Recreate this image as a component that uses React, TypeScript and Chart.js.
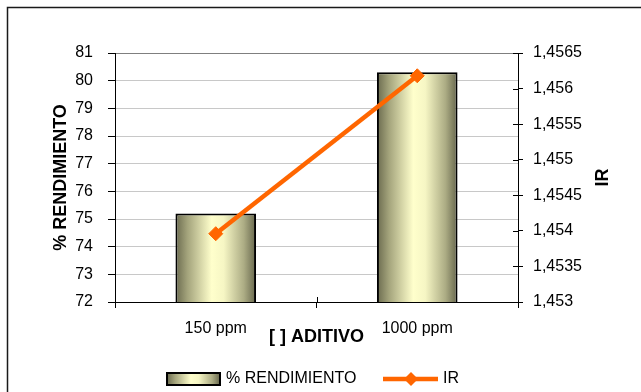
import React, { useEffect, useRef } from "react";
import { Chart, registerables } from "chart.js";

Chart.register(...registerables);

// ---- data ----
const categories: string[] = ["150 ppm", "1000 ppm"];
const rendimiento: number[] = [75.2, 80.3];
const irValues: number[] = [1.45396, 1.45618];

const leftMin = 72;
const leftMax = 81;
const leftStep = 1;
const rightMin = 1.453;
const rightMax = 1.4565;
const rightStep = 0.0005;

const seriesNames = ["% RENDIMIENTO", "IR"];
const xTitle = "[ ] ADITIVO";
const yTitle = "% RENDIMIENTO";
const y1Title = "IR";

const FONT = "'Liberation Sans', Arial, sans-serif";
const ORANGE = "#ff6600";

function barGradient(ctx: CanvasRenderingContext2D, x0: number, x1: number) {
  const g = ctx.createLinearGradient(x0, 0, x1, 0);
  g.addColorStop(0, "#6a6a4e");
  g.addColorStop(0.15, "#a4a47c");
  g.addColorStop(0.45, "#ffffcc");
  g.addColorStop(0.6, "#f6f6c4");
  g.addColorStop(0.85, "#acac84");
  g.addColorStop(1, "#66664c");
  return g;
}

function fmtComma(v: number): string {
  let s = Number(v).toFixed(4);
  s = s.replace(/0+$/, "").replace(/\.$/, "");
  return s.replace(".", ",");
}

const extrasPlugin = {
  id: "extras",
  afterDraw(chart: any) {
    const ctx: CanvasRenderingContext2D = chart.ctx;
    const area = chart.chartArea;
    ctx.save();
    // outer frame (top & left visible)
    ctx.strokeStyle = "#1a1a1a";
    ctx.lineWidth = 1.5;
    ctx.beginPath();
    ctx.moveTo(7.5, 400);
    ctx.lineTo(7.5, 7.5);
    ctx.lineTo(660, 7.5);
    ctx.stroke();

    // inside halves of crossing ticks (right axis & x axis)
    ctx.strokeStyle = "#000";
    ctx.lineWidth = 1;
    const y1 = chart.scales.y1;
    y1.ticks.forEach((t: any) => {
      const py = Math.round(y1.getPixelForValue(t.value)) + 0.5;
      ctx.beginPath();
      ctx.moveTo(area.right - 5, py);
      ctx.lineTo(area.right, py);
      ctx.stroke();
    });
    const w = (area.right - area.left) / categories.length;
    for (let i = 0; i <= categories.length; i++) {
      const px = Math.round(area.left + i * w) + 0.5;
      ctx.beginPath();
      ctx.moveTo(px, area.bottom - 5);
      ctx.lineTo(px, area.bottom);
      ctx.stroke();
    }

    // right axis title (rotated -90)
    ctx.fillStyle = "#000";
    ctx.font = `bold 18px ${FONT}`;
    ctx.textAlign = "center";
    ctx.textBaseline = "middle";
    ctx.translate(603, (area.top + area.bottom) / 2);
    ctx.rotate(-Math.PI / 2);
    ctx.fillText(y1Title, 0, 0);
    ctx.setTransform(1, 0, 0, 1, 0, 0);

    // legend
    const ly = 379;
    const sx0 = 167, sx1 = 220;
    ctx.fillStyle = barGradient(ctx, sx0, sx1);
    ctx.fillRect(sx0, ly - 6, sx1 - sx0, 12);
    ctx.strokeStyle = "#000";
    ctx.lineWidth = 2;
    ctx.strokeRect(sx0, ly - 6, sx1 - sx0, 12);
    ctx.fillStyle = "#000";
    ctx.font = `16px ${FONT}`;
    ctx.textAlign = "left";
    ctx.textBaseline = "middle";
    ctx.fillText(seriesNames[0], 226, ly);
    ctx.strokeStyle = ORANGE;
    ctx.lineWidth = 4.5;
    ctx.beginPath();
    ctx.moveTo(383, ly);
    ctx.lineTo(438, ly);
    ctx.stroke();
    ctx.fillStyle = ORANGE;
    ctx.beginPath();
    ctx.moveTo(411, ly - 7);
    ctx.lineTo(418, ly);
    ctx.lineTo(411, ly + 7);
    ctx.lineTo(404, ly);
    ctx.closePath();
    ctx.fill();
    ctx.fillStyle = "#000";
    ctx.fillText(seriesNames[1], 443, ly);
    ctx.restore();
  },
};

export default function App() {
  const ref = useRef<HTMLCanvasElement | null>(null);

  useEffect(() => {
    if (!ref.current) return;
    Chart.defaults.font.family = FONT;
    Chart.defaults.color = "#000";
    const chart = new Chart(ref.current, {
      type: "bar",
      data: {
        labels: categories,
        datasets: [
          {
            type: "line",
            label: seriesNames[1],
            data: irValues,
            yAxisID: "y1",
            borderColor: ORANGE,
            backgroundColor: ORANGE,
            borderWidth: 4.5,
            pointStyle: "rectRot",
            pointRadius: 7,
            pointBorderWidth: 1,
            pointBackgroundColor: ORANGE,
            pointBorderColor: ORANGE,
            order: 0,
          } as any,
          {
            type: "bar",
            label: seriesNames[0],
            data: rendimiento,
            yAxisID: "y",
            borderColor: "#000",
            borderWidth: 2,
            borderSkipped: false,
            categoryPercentage: 1,
            barPercentage: 0.4,
            order: 1,
            backgroundColor: (c: any) => {
              const ch = c.chart;
              const area = ch.chartArea;
              if (!area || c.type !== "data") return "#e0e0a8";
              const cx = ch.scales.x.getPixelForValue(c.dataIndex);
              const w = ((area.right - area.left) / categories.length) * 0.4;
              return barGradient(ch.ctx, cx - w / 2, cx + w / 2);
            },
          } as any,
        ],
      },
      options: {
        responsive: false,
        animation: false,
        devicePixelRatio: 1,
        layout: { padding: { top: 53, left: 0, right: 0, bottom: 0 } },
        plugins: {
          legend: { display: false },
          tooltip: { enabled: false },
        },
        scales: {
          x: {
            offset: true,
            grid: {
              display: true,
              drawOnChartArea: false,
              offset: true,
              tickLength: 6,
              color: "#000",
            },
            border: { display: true, color: "#000", width: 1 },
            ticks: { color: "#000", font: { size: 16 }, padding: 11, maxRotation: 0 },
            title: {
              display: true,
              text: xTitle,
              color: "#000",
              font: { size: 18, weight: "bold" },
              padding: { top: 4, bottom: 44 },
            },
            afterFit: (s: any) => {
              s.height = 90;
            },
          },
          y: {
            position: "left",
            min: leftMin,
            max: leftMax,
            ticks: { stepSize: leftStep, color: "#000", font: { size: 16 }, padding: 15 },
            grid: {
              color: (c: any) => (c.tick && c.tick.value === leftMax ? "#7f7f7f" : "#c8c8c8"),
              tickColor: "#000",
              tickLength: 7,
            },
            border: { display: true, color: "#000", width: 1 },
            title: {
              display: true,
              text: yTitle,
              color: "#000",
              font: { size: 18, weight: "bold" },
              padding: { top: 50, bottom: 0 },
            },
            afterFit: (s: any) => {
              s.width = 115;
            },
          },
          y1: {
            position: "right",
            min: rightMin,
            max: rightMax,
            ticks: {
              stepSize: rightStep,
              color: "#000",
              font: { size: 16 },
              padding: 10,
              callback: (v: any) => fmtComma(Number(v)),
            },
            grid: {
              drawOnChartArea: false,
              tickColor: "#000",
              tickLength: 5,
            },
            border: { display: true, color: "#000", width: 1 },
            afterFit: (s: any) => {
              s.width = 123;
            },
          },
        },
      } as any,
      plugins: [extrasPlugin],
    });
    return () => chart.destroy();
  }, []);

  return (
    <div style={{ position: "fixed", left: 0, top: 0, width: 641, height: 392, background: "#fff" }}>
      <canvas ref={ref} width={641} height={392} style={{ width: 641, height: 392, display: "block" }} />
    </div>
  );
}
